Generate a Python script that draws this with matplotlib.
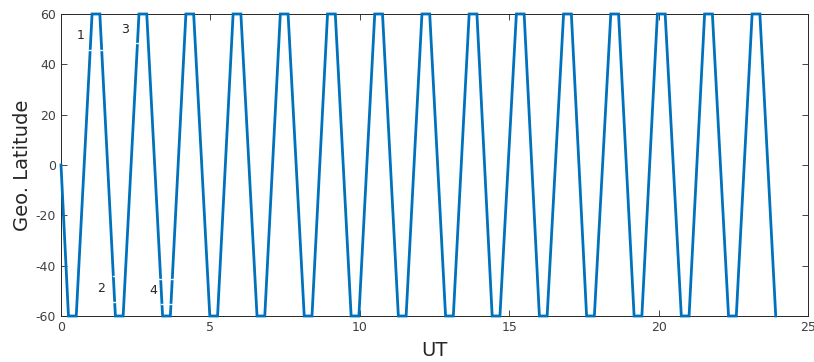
import matplotlib
matplotlib.use("Agg")
import matplotlib.pyplot as plt

plt.rcParams["axes.unicode_minus"] = False

# Vertices of the latitude trace (UT hours, geographic latitude in degrees)
ut = [0.00, 0.25, 0.51, 1.04, 1.30, 1.82, 2.08, 2.61, 2.87, 3.40, 3.66,
      4.18, 4.44, 4.98, 5.24, 5.76, 6.02, 6.56, 6.82, 7.34, 7.60,
      8.14, 8.40, 8.92, 9.18, 9.71, 9.97, 10.50, 10.76, 11.29, 11.55,
      12.08, 12.34, 12.87, 13.13, 13.66, 13.92, 14.43, 14.69, 15.24, 15.50,
      16.01, 16.27, 16.82, 17.08, 17.59, 17.85, 18.40, 18.66, 19.18, 19.44,
      19.96, 20.22, 20.76, 21.02, 21.54, 21.80, 22.34, 22.60, 23.13, 23.39,
      23.92]
lat = [0, -60, -60, 60, 60, -60, -60, 60, 60, -60, -60,
       60, 60, -60, -60, 60, 60, -60, -60, 60, 60,
       -60, -60, 60, 60, -60, -60, 60, 60, -60, -60,
       60, 60, -60, -60, 60, 60, -60, -60, 60, 60,
       -60, -60, 60, 60, -60, -60, 60, 60, -60, -60,
       60, 60, -60, -60, 60, 60, -60, -60, 60, 60,
       -60]

labels = ["1", "2", "3", "4"]
label_ut = [0.64, 1.34, 2.14, 3.08]
label_lat = [51.3, -48.9, 54.0, -50.0]

# short white marker segments crossing the trace near the labels
seg_ut = [(0.90, 1.36), (2.47, 2.64), (1.75, 1.86), (1.75, 1.86), (3.29, 3.78), (3.35, 3.74)]
seg_lat = [45.7, 48.6, -44.1, -54.4, -45.4, -55.3]

xticks = [0, 5, 10, 15, 20, 25]
yticks = [-60, -40, -20, 0, 20, 40, 60]

fig = plt.figure(figsize=(8.14, 3.62), dpi=100)
ax = fig.add_axes([61/814, 1 - 316/362, (808 - 61)/814, (316 - 14)/362])

ax.plot(ut, lat, color="#0072BD", lw=2.0, clip_on=False, zorder=3,
        solid_joinstyle="miter")
for (x0, x1), y in zip(seg_ut, seg_lat):
    ax.plot([x0, x1], [y, y], color="white", lw=1.0, zorder=4, alpha=0.9)
for s, x, y in zip(labels, label_ut, label_lat):
    ax.text(x, y, s, fontsize=9, color="#262626", ha="center", va="center", zorder=5)

ax.set_xlim(0, 25)
ax.set_ylim(-60, 60)
ax.set_xticks(xticks)
ax.set_yticks(yticks)
ax.tick_params(direction="in", top=True, right=True, length=4, width=0.6,
               colors="#262626", labelsize=9, labelcolor="#404040")
for sp in ax.spines.values():
    sp.set_color("#262626")
    sp.set_linewidth(0.7)
ax.set_xlabel("UT", fontsize=14, color="#262626", labelpad=5)
ax.set_ylabel("Geo. Latitude", fontsize=14, color="#262626", labelpad=3)

fig.savefig("out.png", dpi=100)
